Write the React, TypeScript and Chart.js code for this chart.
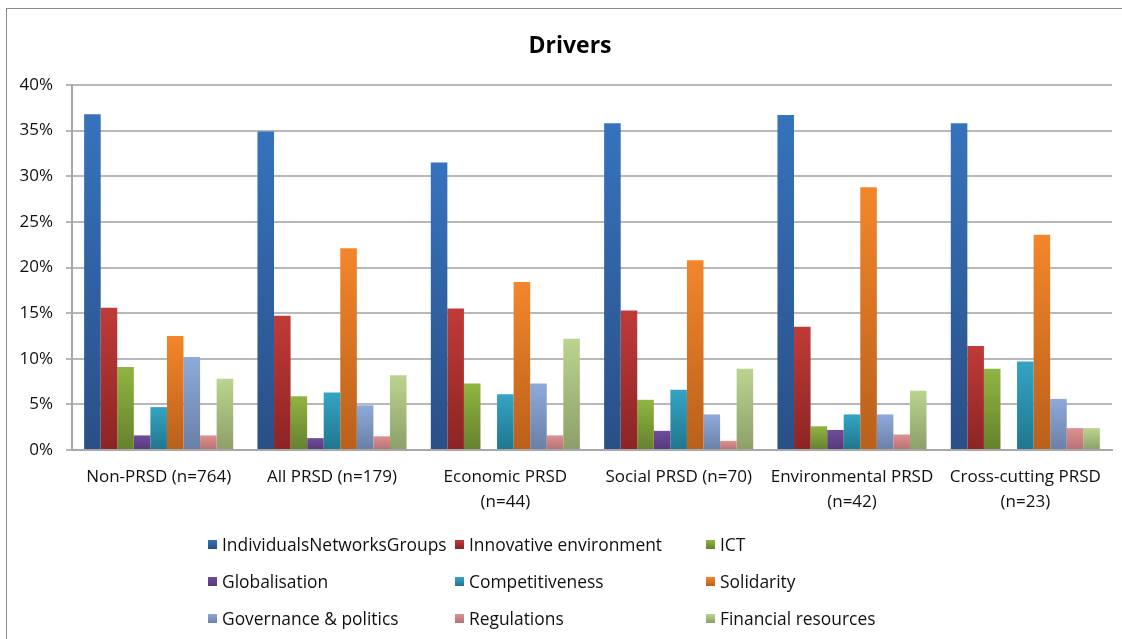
import React, { useEffect, useRef } from "react";
import { Chart, registerables } from "chart.js";

Chart.register(...registerables);

const categories: (string | string[])[] = [
  "Non-PRSD (n=764)",
  "All PRSD (n=179)",
  ["Economic PRSD", "(n=44)"],
  "Social PRSD (n=70)",
  ["Environmental PRSD", "(n=42)"],
  ["Cross-cutting PRSD", "(n=23)"],
];

const seriesNames = [
  "IndividualsNetworksGroups",
  "Innovative environment",
  "ICT",
  "Globalisation",
  "Competitiveness",
  "Solidarity",
  "Governance & politics",
  "Regulations",
  "Financial resources",
];

const individualsNetworksGroups = [36.8, 34.9, 31.5, 35.8, 36.7, 35.8];
const innovativeEnvironment = [15.6, 14.7, 15.5, 15.3, 13.5, 11.4];
const ict = [9.1, 5.9, 7.3, 5.5, 2.6, 8.9];
const globalisation = [1.6, 1.3, 0, 2.1, 2.2, 0];
const competitiveness = [4.7, 6.3, 6.1, 6.6, 3.9, 9.7];
const solidarity = [12.5, 22.1, 18.4, 20.8, 28.8, 23.6];
const governancePolitics = [10.2, 4.9, 7.3, 3.9, 3.9, 5.6];
const regulations = [1.6, 1.5, 1.6, 1.0, 1.7, 2.4];
const financialResources = [7.8, 8.2, 12.2, 8.9, 6.5, 2.4];

const yTicks = [0, 5, 10, 15, 20, 25, 30, 35, 40];

const seriesValues = [
  individualsNetworksGroups,
  innovativeEnvironment,
  ict,
  globalisation,
  competitiveness,
  solidarity,
  governancePolitics,
  regulations,
  financialResources,
];

const topColors = ["#3673bd", "#c03b38", "#90b541", "#6f4d9b", "#35a4c4", "#f3862b", "#8eaadb", "#df918f", "#bad58f"];
const bottomColors = ["#2a4f86", "#8c2424", "#65812e", "#553979", "#1f768e", "#b9601b", "#6a7fa5", "#b67173", "#8c9f68"];

const FONT = "'Open Sans', 'DejaVu Sans', sans-serif";

function makeBg(top: string, bottom: string) {
  return (ctx: any) => {
    const chart = ctx.chart;
    const area = chart.chartArea;
    if (!area || ctx.type !== "data") return top;
    const y = chart.scales.y;
    if (!y) return top;
    const y0 = y.getPixelForValue(0);
    const y1 = y.getPixelForValue(ctx.raw);
    if (!isFinite(y0) || !isFinite(y1) || Math.abs(y0 - y1) < 1) return bottom;
    const g = chart.ctx.createLinearGradient(0, y1, 0, y0);
    g.addColorStop(0, top);
    g.addColorStop(1, bottom);
    return g;
  };
}

const titlePlugin = {
  id: "customTitle",
  afterDraw(chart: any) {
    const c = chart.ctx;
    c.save();
    c.font = `bold 23px ${FONT}`;
    c.fillStyle = "#000";
    c.textAlign = "center";
    c.textBaseline = "middle";
    c.fillText("Drivers", 570, 46);
    c.restore();
  },
};

const legendCols = [208, 455, 706];
const legendRows = [544, 581, 618];

export default function App() {
  const ref = useRef<HTMLCanvasElement | null>(null);

  useEffect(() => {
    if (!ref.current) return;
    const chart = new Chart(ref.current, {
      type: "bar",
      data: {
        labels: categories,
        datasets: seriesNames.map((name, i) => ({
          label: name,
          data: seriesValues[i],
          backgroundColor: makeBg(topColors[i], bottomColors[i]),
          borderWidth: 0,
          categoryPercentage: 0.86,
          barPercentage: 1.0,
        })),
      },
      options: {
        responsive: false,
        animation: false,
        devicePixelRatio: 1,
        layout: { padding: { top: 85, right: 10, left: 0, bottom: 0 } },
        plugins: {
          legend: { display: false },
          title: { display: false },
          tooltip: { enabled: false },
        },
        scales: {
          x: {
            grid: { display: false, drawTicks: false },
            border: { display: true, color: "#a8a8a8", width: 2 },
            ticks: {
              color: "#111",
              font: { family: FONT, size: 17, lineHeight: 1.45 },
              padding: 15,
              maxRotation: 0,
              minRotation: 0,
              autoSkip: false,
            },
            afterFit: (s: any) => {
              s.height = 189;
            },
          },
          y: {
            min: 0,
            max: 40,
            afterBuildTicks: (s: any) => {
              s.ticks = yTicks.map((v) => ({ value: v }));
            },
            grid: { color: "#b8b8b8", lineWidth: 2, tickLength: 6, drawTicks: true },
            border: { display: true, color: "#a8a8a8", width: 2 },
            ticks: {
              color: "#111",
              font: { family: FONT, size: 17 },
              padding: 13,
              callback: (v: any) => `${v}%`,
            },
            afterFit: (s: any) => {
              s.width = 72;
            },
          },
        },
      },
      plugins: [titlePlugin],
    });
    return () => chart.destroy();
  }, []);

  return (
    <div
      style={{
        position: "fixed",
        left: 0,
        top: 0,
        width: 1122,
        height: 639,
        background: "#fff",
        overflow: "hidden",
        fontFamily: FONT,
      }}
    >
      <div
        style={{
          position: "absolute",
          left: 6,
          top: 8,
          width: 1300,
          height: 800,
          border: "1px solid #8a8a8a",
        }}
      />
      <canvas ref={ref} width={1122} height={639} style={{ position: "absolute", left: 0, top: 0 }} />
      {seriesNames.map((name, i) => {
        const col = i % 3;
        const row = Math.floor(i / 3);
        return (
          <div
            key={name}
            style={{
              position: "absolute",
              left: legendCols[col],
              top: legendRows[row] - 12,
              height: 24,
              display: "flex",
              alignItems: "center",
              whiteSpace: "nowrap",
              fontSize: 17.4,
              color: "#111",
            }}
          >
            <span
              style={{
                display: "inline-block",
                width: 9,
                height: 9,
                marginRight: 5,
                background: `linear-gradient(${topColors[i]}, ${bottomColors[i]})`,
              }}
            />
            <span>{name}</span>
          </div>
        );
      })}
    </div>
  );
}
